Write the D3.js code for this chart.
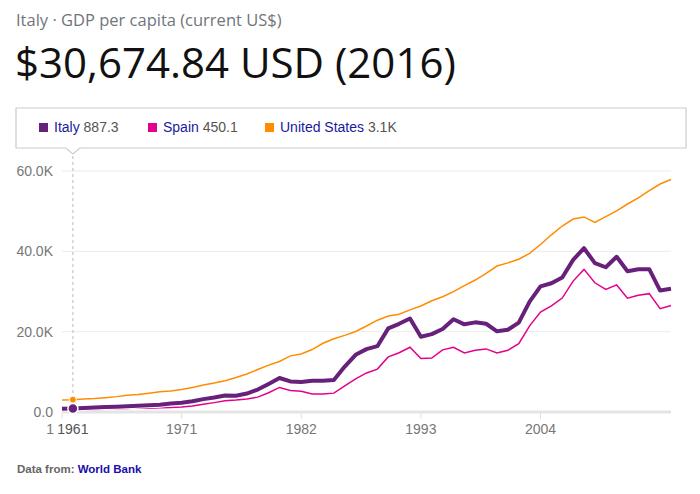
<!DOCTYPE html>
<html>
<head>
<meta charset="utf-8">
<script src="https://cdn.jsdelivr.net/npm/d3@7"></script>
<style>
  html, body { margin: 0; padding: 0; background: #fff; }
  svg { display: block; }
</style>
</head>
<body>
<svg id="chart" width="700" height="494"></svg>
<script>
const years = d3.range(1960, 2017);
const italy = [804, 887, 990, 1126, 1222, 1304, 1402, 1533, 1651, 1813,
  2107, 2305, 2671, 3205, 3621, 4102, 4033, 4601, 5591, 6991,
  8456, 7618, 7492, 7776, 7755, 7991, 11315, 14234, 15654, 16386,
  20825, 21956, 23265, 18748, 19400, 20664, 23082, 21829, 22318, 21973,
  20088, 20483, 22266, 27466, 31259, 32043, 33501, 37868, 40778, 37079,
  36036, 38650, 35054, 35560, 35565, 30230, 30675];
const spain = [396, 450, 520, 609, 675, 774, 889, 968, 939, 1045,
  1112, 1245, 1501, 1931, 2335, 2781, 2973, 3260, 3698, 4792,
  6113, 5342, 5189, 4491, 4509, 4699, 6513, 8238, 9726, 10681,
  13715, 14761, 16114, 13316, 13435, 15471, 16111, 14721, 15398, 15705,
  14714, 15356, 17019, 21441, 24861, 26420, 28371, 32591, 35510, 32173,
  30503, 31636, 28324, 29059, 29462, 25732, 26529];
const usa = [3007, 3067, 3244, 3375, 3574, 3828, 4146, 4336, 4696, 5032,
  5234, 5609, 6094, 6726, 7226, 7801, 8592, 9453, 10565, 11674,
  12575, 13976, 14434, 15544, 17121, 18237, 19071, 20039, 21417, 22857,
  23889, 24342, 25419, 26387, 27695, 28691, 29968, 31459, 32854, 34515,
  36335, 37133, 38023, 39497, 41712, 44115, 46299, 48050, 48570, 47195,
  48651, 50066, 51784, 53291, 55124, 56763, 57867];
const seriesNames = ["Italy", "Spain", "United States"];
const seriesColors = ["#68217a", "#e3008c", "#ff8c00"];
const legendValues = ["887.3", "450.1", "3.1K"];
const yTicks = [0, 20000, 40000, 60000];
const yTickLabels = ["0.0", "20.0K", "40.0K", "60.0K"];
const xTicks = [1961, 1971, 1982, 1993, 2004];
const hoverYear = 1961;
const titleText = "Italy · GDP per capita (current US$)";
const valueText = "$30,674.84 USD (2016)";

const svg = d3.select("#chart");
const x = d3.scaleLinear().domain([1960, 2016]).range([62, 671]);
const y = d3.scaleLinear().domain([0, 60000]).range([412, 171]);

// Header
svg.append("text").attr("x", 16).attr("y", 26)
  .attr("font-family", "'Open Sans', 'Noto Sans', sans-serif")
  .attr("font-size", 16.5).attr("fill", "#70757a").text(titleText);
svg.append("text").attr("x", 15).attr("y", 78)
  .attr("font-family", "'Open Sans', 'Noto Sans', sans-serif")
  .attr("font-size", 42).attr("fill", "#111").text(valueText);

// Legend box with notch
const bx0 = 16, bx1 = 686, by0 = 108, by1 = 148, nx = x(hoverYear);
svg.append("path")
  .attr("d", `M${bx0},${by0}H${bx1}V${by1}H${nx + 7}L${nx},${by1 + 6}L${nx - 7},${by1}H${bx0}Z`)
  .attr("fill", "#fff").attr("stroke", "#cccccc").attr("stroke-width", 1.2);

const legendX = [39, 148, 265];
seriesNames.forEach((n, i) => {
  const g = svg.append("g").attr("transform", `translate(${legendX[i]},0)`);
  g.append("rect").attr("x", 0).attr("y", 123).attr("width", 9).attr("height", 9)
    .attr("fill", seriesColors[i]);
  const t = g.append("text").attr("x", 15).attr("y", 132)
    .attr("font-family", "'Liberation Sans', Arial, sans-serif").attr("font-size", 14);
  t.append("tspan").attr("fill", "#1a1a9c").text(n + " ");
  t.append("tspan").attr("fill", "#555").text(legendValues[i]);
});

// Grid
const grid = svg.append("g");
yTicks.forEach((v, i) => {
  grid.append("line").attr("x1", 62).attr("x2", 671)
    .attr("y1", y(v)).attr("y2", y(v))
    .attr("stroke", v === 0 ? "#e4e4e4" : "#ebebeb")
    .attr("stroke-width", v === 0 ? 3 : 1);
  grid.append("text").attr("x", 53).attr("y", y(v) + 5)
    .attr("text-anchor", "end")
    .attr("font-family", "'Liberation Sans', Arial, sans-serif")
    .attr("font-size", 14).attr("fill", "#777").text(yTickLabels[i]);
});

// X axis ticks
const xa = svg.append("g");
[1960].concat(xTicks.slice(1)).forEach(v => {
  xa.append("line").attr("x1", x(v)).attr("x2", x(v))
    .attr("y1", 413).attr("y2", 419).attr("stroke", "#e0e0e0").attr("stroke-width", 1);
});
xTicks.forEach(v => {
  xa.append("text").attr("x", x(v)).attr("y", 434).attr("text-anchor", "middle")
    .attr("font-family", "'Liberation Sans', Arial, sans-serif")
    .attr("font-size", 14).attr("fill", v === hoverYear ? "#555" : "#777").text(v);
});
xa.append("text").attr("x", x(1960) - 8).attr("y", 434).attr("text-anchor", "end")
  .attr("font-family", "'Liberation Sans', Arial, sans-serif")
  .attr("font-size", 14).attr("fill", "#777").text("1");

// Hover line
svg.append("line").attr("x1", x(hoverYear)).attr("x2", x(hoverYear))
  .attr("y1", 156).attr("y2", 412).attr("stroke", "#bbb")
  .attr("stroke-width", 1).attr("stroke-dasharray", "3,3");

// Lines
const line = d3.line().x((d, i) => x(years[i])).y(d => y(d));
svg.append("path").datum(usa).attr("d", line).attr("fill", "none")
  .attr("stroke", seriesColors[2]).attr("stroke-width", 1.5);
svg.append("path").datum(spain).attr("d", line).attr("fill", "none")
  .attr("stroke", seriesColors[1]).attr("stroke-width", 1.5);
svg.append("path").datum(italy).attr("d", line).attr("fill", "none")
  .attr("stroke", "#fff").attr("stroke-width", 6).attr("stroke-linejoin", "round");
svg.append("path").datum(italy).attr("d", line).attr("fill", "none")
  .attr("stroke", seriesColors[0]).attr("stroke-width", 4).attr("stroke-linejoin", "round");

// Markers
const hi = years.indexOf(hoverYear);
svg.append("circle").attr("cx", x(hoverYear)).attr("cy", y(usa[hi])).attr("r", 3.5)
  .attr("fill", seriesColors[2]).attr("stroke", "#fff").attr("stroke-width", 1);
svg.append("circle").attr("cx", x(hoverYear)).attr("cy", y(italy[hi])).attr("r", 5)
  .attr("fill", seriesColors[0]).attr("stroke", "#fff").attr("stroke-width", 1.5);

// Footer
const ft = svg.append("text").attr("x", 17).attr("y", 473)
  .attr("font-family", "'Liberation Sans', Arial, sans-serif")
  .attr("font-size", 11.5).attr("font-weight", "bold");
ft.append("tspan").attr("fill", "#666").text("Data from: ");
ft.append("tspan").attr("fill", "#1a0dab").text("World Bank");
</script>
</body>
</html>
